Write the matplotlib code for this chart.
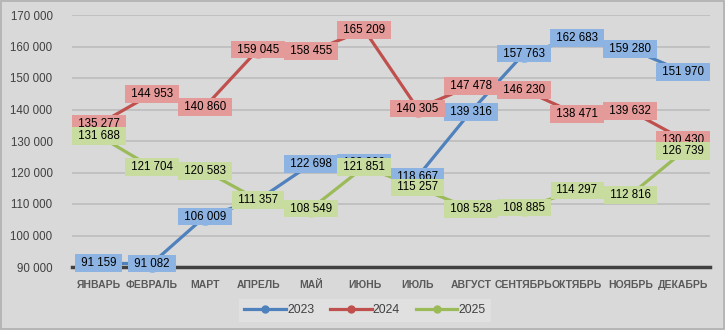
import matplotlib
matplotlib.use("Agg")
from matplotlib import pyplot as plt
from matplotlib.patches import Rectangle
from matplotlib.lines import Line2D

months = ["ЯНВАРЬ", "ФЕВРАЛЬ", "МАРТ", "АПРЕЛЬ", "МАЙ", "ИЮНЬ",
          "ИЮЛЬ", "АВГУСТ", "СЕНТЯБРЬ", "ОКТЯБРЬ", "НОЯБРЬ", "ДЕКАБРЬ"]
y2023 = [91159, 91082, 106009, 111300, 122698, 122900,
         118667, 139316, 157763, 162683, 159280, 151970]
y2024 = [135277, 144953, 140860, 159045, 158455, 165209,
         140305, 147478, 146230, 138471, 139632, 130430]
y2025 = [131688, 121704, 120583, 111357, 108549, 121851,
         115257, 108528, 108885, 114297, 112816, 126739]
yticks = list(range(90000, 170001, 10000))

series = [("2023", y2023, "#4f81bd", "#8db3e2"),
          ("2024", y2024, "#c0504d", "#e39a98"),
          ("2025", y2025, "#9bbb59", "#c8dca0")]

plt.rcParams['font.family'] = ['Liberation Sans', 'DejaVu Sans']

def fmt(v):
    return f"{v:,}".replace(",", " ")

fig = plt.figure(figsize=(7.25, 3.3), dpi=100, facecolor="#d9d9d9")
fig.patches.append(Rectangle((0.001, 0.002), 0.997, 0.995, transform=fig.transFigure,
                             fill=False, ec="#b0b0b0", lw=1.2))
ax = fig.add_axes([72/725, 63/330, 638/725, 252/330])
ax.set_facecolor("#d9d9d9")

x = list(range(len(months)))
for i, (name, vals, col, light) in enumerate(series):
    ax.plot(x, vals, color=col, lw=2.3, marker="o", ms=11,
            mfc=light, mec=light, zorder=3 + i, clip_on=False)
# labels of the later series sit on top, like the original
for i, (name, vals, col, light) in enumerate(series):
    for xi, v in zip(x, vals):
        ax.text(xi, v, " " + fmt(v) + " ", ha="center", va="center", fontsize=8.3,
                color="black", zorder=10 + i, clip_on=False,
                bbox=dict(boxstyle="square,pad=0.25", fc=light, ec="none"))

ax.set_xlim(-0.5, 11.5)
ax.set_ylim(90000, 170000)
ax.set_yticks(yticks)
ax.set_yticklabels([fmt(v) for v in yticks], fontsize=8.3, color="#404040")
ax.set_xticks(x)
ax.set_xticklabels(months, fontsize=7.5, color="#595959", fontweight="bold")
ax.tick_params(length=0)
ax.tick_params(axis="x", pad=9)
ax.tick_params(axis="y", pad=14)
ax.grid(axis="y", color="#bfbfbf", lw=1.3)
ax.set_axisbelow(True)
for s in ["top", "right", "left"]:
    ax.spines[s].set_visible(False)
ax.spines["bottom"].set_color("#404040")
ax.spines["bottom"].set_linewidth(2.5)
ax.spines["bottom"].set_zorder(2.5)

handles = [Line2D([], [], color=col, lw=2.3, marker="o", ms=5, mfc=col, mec=col)
           for _, _, col, _ in series]
leg = fig.legend(handles, [s[0] for s in series], loc="center",
                 bbox_to_anchor=(365/725, 1 - 310/330), ncol=3,
                 frameon=True, fancybox=False, fontsize=8.8,
                 handlelength=3.4, handletextpad=0.1, columnspacing=1.3,
                 borderpad=0.45)
leg.get_frame().set_facecolor("#e3e3e3")
leg.get_frame().set_edgecolor("none")
for t in leg.get_texts():
    t.set_color("#404040")

fig.savefig("out.png", dpi=100, facecolor=fig.get_facecolor())
